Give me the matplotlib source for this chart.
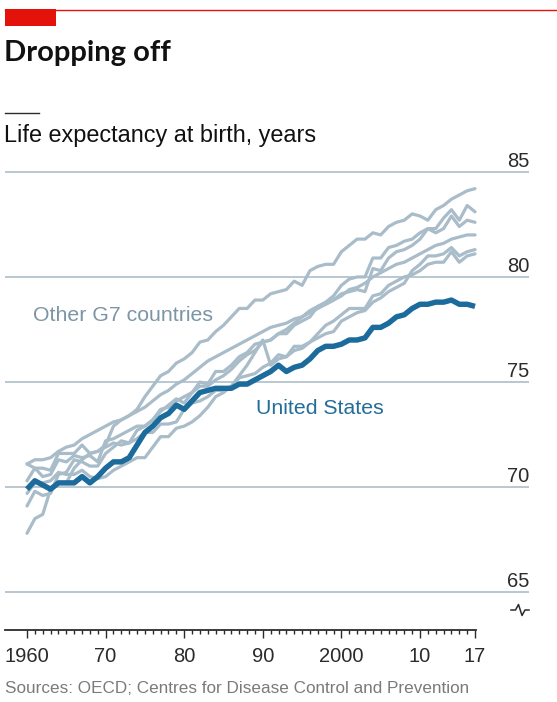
import numpy as np
import matplotlib
matplotlib.use("Agg")
import matplotlib.pyplot as plt
from matplotlib import font_manager
from matplotlib.lines import Line2D
from matplotlib.patches import Rectangle

# data (life expectancy at birth, years)
years = np.arange(1960, 2018)

united_states = [69.9, 70.3, 70.1, 69.9, 70.2, 70.2, 70.2, 70.5, 70.2, 70.5,
                 70.9, 71.2, 71.2, 71.4, 72.0, 72.6, 72.9, 73.3, 73.5, 73.9,
                 73.7, 74.1, 74.5, 74.6, 74.7, 74.7, 74.7, 74.9, 74.9, 75.1,
                 75.3, 75.5, 75.8, 75.5, 75.7, 75.8, 76.1, 76.5, 76.7, 76.7,
                 76.8, 77.0, 77.0, 77.1, 77.6, 77.6, 77.8, 78.1, 78.2, 78.5,
                 78.7, 78.7, 78.8, 78.8, 78.9, 78.7, 78.7, 78.6]

japan = [67.8, 68.5, 68.7, 69.9, 70.2, 70.2, 70.9, 71.3, 71.6, 71.7,
         72.0, 72.9, 73.2, 73.4, 73.7, 74.3, 74.8, 75.3, 75.5, 75.9,
         76.1, 76.4, 76.9, 77.0, 77.4, 77.7, 78.1, 78.5, 78.5, 78.9,
         78.9, 79.2, 79.3, 79.4, 79.8, 79.6, 80.3, 80.5, 80.6, 80.6,
         81.2, 81.5, 81.8, 81.8, 82.1, 82.0, 82.4, 82.6, 82.7, 83.0,
         82.9, 82.7, 83.2, 83.4, 83.7, 83.9, 84.1, 84.2]

italy = [69.1, 69.8, 69.6, 69.7, 70.6, 70.7, 71.3, 71.2, 71.0, 71.0,
         71.6, 71.9, 72.2, 72.1, 72.7, 72.9, 73.2, 73.6, 73.9, 74.2,
         74.0, 74.5, 75.0, 74.9, 75.5, 75.5, 75.8, 76.2, 76.4, 76.8,
         76.9, 77.0, 77.3, 77.5, 77.8, 78.1, 78.4, 78.6, 78.8, 79.1,
         79.6, 79.9, 80.0, 80.0, 80.9, 80.9, 81.4, 81.5, 81.7, 81.8,
         82.1, 82.3, 82.3, 82.8, 83.2, 82.7, 83.4, 83.1]

france = [70.3, 70.9, 70.5, 70.6, 71.3, 71.2, 71.5, 71.4, 71.5, 71.2,
          72.2, 72.3, 72.5, 72.7, 72.9, 72.9, 73.2, 73.7, 73.8, 74.1,
          74.3, 74.5, 74.8, 74.8, 75.1, 75.3, 75.6, 76.0, 76.3, 76.5,
          76.9, 77.0, 77.3, 77.3, 77.7, 77.9, 78.1, 78.6, 78.7, 78.9,
          79.2, 79.3, 79.4, 79.3, 80.4, 80.3, 80.9, 81.2, 81.3, 81.5,
          81.8, 82.3, 82.1, 82.3, 82.9, 82.4, 82.7, 82.6]

canada = [71.1, 71.3, 71.3, 71.4, 71.7, 71.9, 72.0, 72.3, 72.5, 72.7,
          72.9, 73.1, 73.2, 73.4, 73.6, 73.8, 74.1, 74.4, 74.6, 74.9,
          75.1, 75.4, 75.7, 76.0, 76.2, 76.4, 76.6, 76.8, 77.0, 77.2,
          77.4, 77.6, 77.7, 77.8, 78.0, 78.1, 78.3, 78.5, 78.7, 78.9,
          79.1, 79.4, 79.5, 79.7, 80.0, 80.2, 80.4, 80.6, 80.7, 80.9,
          81.1, 81.3, 81.5, 81.6, 81.8, 81.9, 82.0, 82.0]

britain = [71.1, 70.9, 70.9, 70.8, 71.6, 71.6, 71.6, 72.0, 71.6, 71.7,
           71.9, 72.1, 72.0, 72.1, 72.3, 72.6, 72.6, 73.0, 73.0, 73.1,
           73.7, 74.0, 74.1, 74.3, 74.6, 74.6, 74.8, 75.2, 75.3, 75.4,
           75.7, 75.9, 76.3, 76.2, 76.7, 76.7, 76.9, 77.1, 77.3, 77.4,
           77.9, 78.1, 78.3, 78.4, 78.8, 79.0, 79.3, 79.5, 79.7, 80.3,
           80.6, 81.0, 81.0, 81.1, 81.4, 81.0, 81.2, 81.3]

germany = [69.7, 70.2, 70.2, 70.3, 70.7, 70.6, 70.6, 70.8, 70.5, 70.4,
           70.5, 70.8, 71.0, 71.2, 71.4, 71.4, 71.9, 72.4, 72.4, 72.8,
           72.9, 73.1, 73.4, 73.8, 74.3, 74.5, 74.8, 75.3, 75.8, 76.4,
           77.0, 75.8, 76.1, 76.2, 76.5, 76.6, 76.9, 77.3, 77.7, 77.9,
           78.2, 78.5, 78.5, 78.5, 79.1, 79.2, 79.6, 79.8, 80.0, 80.1,
           80.3, 80.6, 80.7, 80.7, 81.2, 80.7, 81.0, 81.1]

others = [japan, italy, france, canada, britain, germany]

y_ticks = [65, 70, 75, 80, 85]
x_ticks = [1960, 1970, 1980, 1990, 2000, 2010, 2017]
x_labels = ["1960", "70", "80", "90", "2000", "10", "17"]

# colours
BLUE = "#1b6b9c"
GREY_LINE = "#a9bcc9"
GRID = "#b9c7d0"
TEXT = "#2b2b2b"
RED = "#e3120b"

# fonts: prefer a narrow face, else Liberation Sans (Arial widths)
avail = {f.name for f in font_manager.fontManager.ttflist}
if "Liberation Sans Narrow" in avail:
    SANS = "Liberation Sans Narrow"
elif "Liberation Sans" in avail:
    SANS = "Liberation Sans"
else:
    SANS = "DejaVu Sans"
BOLD = "Lato" if "Lato" in avail else SANS

W, H = 557, 702
fig = plt.figure(figsize=(W / 100, H / 100), dpi=100)


def fx(px):
    return px / W


def fy(py):
    return 1 - py / H


# axes placed in pixel terms: left 5, right 529, top 140, bottom 630
ax = fig.add_axes([fx(5), fy(630), fx(529) - fx(5), fy(140) - fy(630)])
px_per_year = 7.86
px_per_unit = 21.1
ax.set_xlim(1960 - 22 / px_per_year, 1960 + 502 / px_per_year)
ax.set_ylim(65 - 38 / px_per_unit, 85 + 32 / px_per_unit)

for v in y_ticks:
    ax.axhline(v, color=GRID, lw=1.4, zorder=1)
    ax.annotate(str(v), xy=(1.0, v), xycoords=("axes fraction", "data"),
                xytext=(0, 3.5), textcoords="offset points",
                ha="right", va="baseline", fontsize=14.5, color=TEXT,
                family=SANS)

for s in others:
    ax.plot(years, s, color=GREY_LINE, lw=2.3, zorder=2,
            solid_joinstyle="round", solid_capstyle="round")
ax.plot(years, united_states, color=BLUE, lw=3.9, zorder=3,
        solid_joinstyle="round", solid_capstyle="butt")

ax.text(1960.8, 77.9, "Other G7 countries", fontsize=15.3, color="#7b95a5",
        family=SANS, ha="left", va="baseline")
ax.text(1989.1, 73.5, "United States", fontsize=15.3, color="#236d99",
        family=SANS, ha="left", va="baseline")

# x axis
for side in ["top", "right", "left"]:
    ax.spines[side].set_visible(False)
ax.spines["bottom"].set_bounds(ax.get_xlim()[0], 2017.1)
ax.spines["bottom"].set_color(TEXT)
ax.spines["bottom"].set_linewidth(1.3)
ax.set_yticks([])
ax.set_xticks(x_ticks)
ax.set_xticklabels(x_labels, family=SANS, fontsize=14.5, color=TEXT)
ax.set_xticks(years, minor=True)
ax.tick_params(axis="x", which="major", length=5.5, width=1, color=TEXT, pad=7)
ax.tick_params(axis="x", which="minor", length=3.2, width=1, color=TEXT)

# axis break sign next to the 65 line
bx = [511, 515.5, 518.5, 522, 525, 529]
by = [610, 610, 604.5, 615.5, 610, 610]
fig.add_artist(Line2D([fx(x) for x in bx], [fy(y) for y in by],
                      color=TEXT, lw=1.1, transform=fig.transFigure))

# header
fig.add_artist(Line2D([fx(5), fx(557)], [fy(9.5), fy(9.5)], color=RED, lw=1.0,
                      transform=fig.transFigure))
fig.add_artist(Rectangle((fx(5), fy(26)), fx(56) - fx(5), fy(9) - fy(26),
                         color=RED, transform=fig.transFigure, lw=0))
fig.text(fx(4), fy(61), "Dropping off", fontsize=21, fontweight="bold",
         family=BOLD, color="#111111", ha="left", va="baseline")
fig.add_artist(Line2D([fx(5), fx(39)], [fy(113), fy(113)], color=TEXT, lw=1.0,
                      transform=fig.transFigure))
fig.text(fx(4), fy(142), "Life expectancy at birth, years", fontsize=16.9,
         family=SANS, color="#111111", ha="left", va="baseline")

fig.text(fx(5), fy(693), "Sources: OECD; Centres for Disease Control and Prevention",
         fontsize=12.3, family=SANS, color="#7a7a7a", ha="left", va="baseline")

fig.savefig("out.png", dpi=100, facecolor="white")
